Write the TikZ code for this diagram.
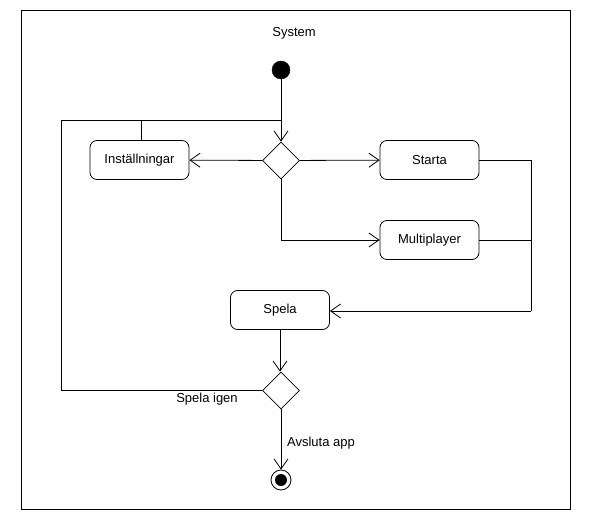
\documentclass[tikz,border=0pt]{standalone}
\usepackage{fontspec}
\setmainfont{Liberation Sans}
\usetikzlibrary{arrows.meta,shapes.geometric}
\begin{document}
\begin{tikzpicture}[x=1pt,y=-1pt,
  act/.style={draw,rounded corners=7pt,minimum width=99pt,minimum height=39pt,inner sep=0pt,font=\fontsize{13}{15}\selectfont,line width=0.8pt},
  dec/.style={draw,diamond,minimum width=37pt,minimum height=37pt,inner sep=0pt,line width=0.8pt},
  flow/.style={line width=0.8pt,-{Straight Barb[length=10pt,width=14pt,line width=0.8pt]}},
  seg/.style={line width=0.8pt},
  lbl/.style={font=\fontsize{13}{15}\selectfont}]
\useasboundingbox (0,0) rectangle (590,530);
\draw[line width=0.8pt] (21,10) rectangle (570,509);
\node[lbl] (sys) at (294,33) {System};
\node[circle,fill=black,draw,minimum size=18pt,inner sep=0pt] (start) at (281,70) {};
\node[dec] (d1) at (281,160.5) {};
\node[act] (inst) at (139.5,160) {Inställningar};
\node[act] (starta) at (429.5,160) {Starta};
\node[act] (multi) at (429.5,240) {Multiplayer};
\node[act] (spela) at (280,310) {Spela};
\node[dec] (d2) at (281,390.5) {};
\node[circle,draw,line width=0.8pt,minimum size=20pt,inner sep=0pt] (end) at (281,480) {};
\node[circle,fill=black,minimum size=12pt,inner sep=0pt] at (end) {};
\coordinate (j) at (281,120);
\coordinate (bus) at (531,311);
\draw[seg] (start) -- (j);
\draw[flow] (j) -- (d1);
\draw[flow] (d1) -- (inst);
\draw[flow] (d1) -- (starta);
\draw[flow] (d1.south) |- (multi.west);
\draw[seg] (starta.east) -| (bus);
\draw[seg] (multi.east) -- (multi.east -| bus);
\draw[flow] (bus) -- (spela.east |- bus);
\draw[flow] (spela.south) -- (spela.south |- d2.north);
\draw[seg] (d2.west) -- (61,390.5) -- (61,120) -- (j);
\draw[seg] (inst.north -| 141,0) -- (141,120);
\draw[flow] (d2) -- (end);
\node[lbl] (av) at (321,443) {Avsluta app};
\node[lbl] (si) at (207,399) {Spela igen};
\end{tikzpicture}
\end{document}
